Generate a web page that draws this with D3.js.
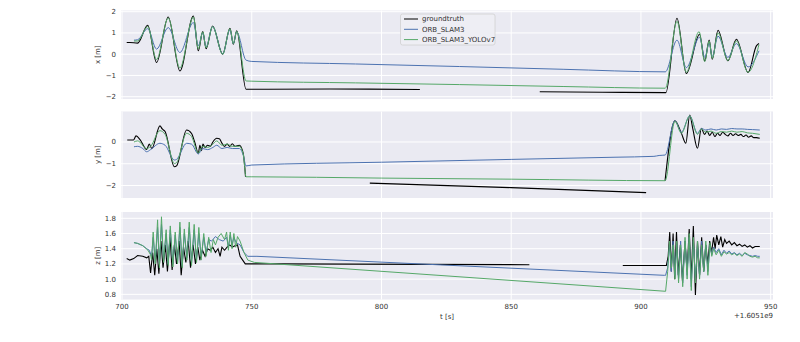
<!DOCTYPE html>
<html><head><meta charset="utf-8">
<script src="https://cdn.jsdelivr.net/npm/d3@7"></script>
<style>body{margin:0;background:#fff}svg{display:block}text{font-family:"DejaVu Sans",sans-serif}</style>
</head><body>
<svg id="c" width="800" height="342"></svg>
<script>
const seriesNames = ["groundtruth", "ORB_SLAM3", "ORB_SLAM3_YOLOv7"];
const seriesColors = ["#000000", "#4c72b0", "#55a868"];
const xTicks = [700, 750, 800, 850, 900, 950];
const xOffsetLabel = "+1.6051e9";
const yLabels = ["x [m]", "y [m]", "z [m]"];
const yTicksX = [-2, -1, 0, 1, 2];
const yTicksY = [-2, -1, 0];
const yTicksZ = [0.8, 1.0, 1.2, 1.4, 1.6, 1.8];

// x panel
const gtX = [[701.8,0.55],[703,0.55],[706,0.52],[709.9,1.36],[713.3,-0.39],[717.8,1.75],[722.3,-0.79],[727.5,1.80],[729.4,0.16],[731.1,1.06],[732.4,0.26],[734.9,1.33],[738.8,0.0],[741.6,1.22],[742.9,0.47],[744.2,1.1],[747.8,-1.65],[780,-1.64],[814.8,-1.66],[815,null],[861,-1.77],[885,-1.79],[909.6,-1.81],[913.9,1.69],[917.5,-0.91],[922.6,0.94],[924.6,-0.32],[926.3,0.66],[927.5,-0.24],[929.7,1.13],[933.5,-0.31],[936.8,0.7],[941.3,-0.86],[944.5,0.39],[945.5,0.5]];
const orbX = [[704.6,0.66],[706,0.68],[709.9,1.2],[713.3,0.24],[717.8,1.25],[722.3,0.08],[727.5,1.49],[729.4,0.4],[731.1,1.0],[732.4,0.35],[734.9,1.3],[738.8,0.02],[741.6,1.15],[742.9,0.5],[744.2,1.05],[747.8,-0.28],[750,-0.34],[790,-0.46],[830,-0.58],[870,-0.71],[909.4,-0.83],[913.9,0.66],[917.5,-0.63],[922.6,0.8],[924.6,-0.15],[926.3,0.5],[927.5,-0.1],[929.7,0.85],[933.5,-0.15],[936.8,0.5],[941.3,-0.6],[945.5,0.16]];
const yoloX = [[704.6,0.62],[706,0.62],[709.9,1.3],[713.3,-0.25],[717.8,1.7],[722.3,-0.65],[727.5,1.75],[729.4,0.25],[731.1,1.05],[732.4,0.3],[734.9,1.3],[738.8,0.0],[741.6,1.2],[742.9,0.5],[744.2,1.08],[747.8,-1.26],[750,-1.27],[790,-1.35],[830,-1.43],[870,-1.52],[909.4,-1.6],[913.9,1.55],[917.5,-0.85],[922.4,1.06],[924.6,-0.35],[926.3,0.62],[927.5,-0.2],[929.7,1.0],[933.5,-0.3],[936.8,0.62],[941.3,-0.85],[945.5,0.45]];

// y panel
const gtY = [[702,0.09],[704.4,0.09],[705.4,0.28],[707,0.1],[709.5,-0.34],[710.5,-0.1],[711.5,-0.3],[714.6,0.74],[715.5,0.6],[716.6,0.48],[720.2,-1.14],[721,-1.1],[724.9,0.55],[726.8,0.39],[728,0.0],[729.4,-0.52],[730,-0.15],[730.6,-0.4],[731.2,-0.1],[732,-0.25],[733,-0.15],[734,-0.2],[735,0.0],[736.5,0.17],[737.5,0.15],[738.5,-0.05],[739.5,-0.2],[740.5,-0.1],[741.5,-0.2],[742.5,-0.08],[743.5,-0.2],[745.2,-0.15],[746.7,-0.52],[747.6,-1.6],[748,null],[795.5,-1.89],[850,-2.1],[902,-2.33],[902.5,null],[909.3,-1.78],[913.1,0.98],[915.6,0.4],[917.3,-0.06],[918.8,1.24],[920,0.6],[921.8,-0.29],[923.3,0.63],[924.5,0.35],[925.5,0.5],[926.5,0.3],[927.5,0.45],[928.5,0.25],[929.5,0.4],[930.5,0.3],[931.5,0.45],[932.5,0.35],[933.5,0.28],[934.5,0.4],[935.5,0.3],[936.5,0.38],[937.5,0.3],[938.5,0.35],[939.5,0.25],[940.5,0.32],[941.5,0.22],[942.5,0.28],[943.5,0.2],[944.5,0.2],[945.8,0.17]];
const orbY = [[704.6,-0.22],[706,-0.2],[708,-0.3],[709.5,-0.45],[711,-0.35],[714.6,-0.06],[716.6,-0.15],[720.2,-0.83],[721,-0.8],[724.9,-0.06],[726.8,-0.1],[729.4,-0.55],[731,-0.3],[733,-0.35],[735,-0.25],[736.5,-0.15],[738.5,-0.3],[740.5,-0.25],[742.5,-0.3],[745.2,-0.3],[746.7,-0.6],[747.8,-1.1],[750,-1.06],[800,-0.93],[850,-0.8],[890,-0.7],[905,-0.66],[907,-0.62],[909.3,-0.6],[913.1,0.98],[915.6,0.45],[918.8,1.2],[921.8,0.4],[923.3,0.62],[925,0.55],[927,0.6],[929,0.55],[931,0.6],[933,0.58],[935,0.62],[937,0.6],[939,0.6],[941,0.58],[943,0.57],[945.8,0.55]];
const yoloY = [[704.6,0.0],[706,0.05],[709.5,-0.3],[711,-0.2],[714.6,0.52],[716.6,0.35],[720.2,-0.99],[721,-0.95],[724.9,0.4],[726.8,0.25],[729.4,-0.5],[731,-0.2],[733,-0.25],[735,-0.1],[736.5,0.05],[738.5,-0.15],[740.5,-0.1],[742.5,-0.2],[745.2,-0.2],[746.7,-0.55],[747.8,-1.6],[750,-1.6],[800,-1.66],[850,-1.71],[909.3,-1.78],[913.1,0.95],[915.6,0.4],[918.8,1.2],[921.8,0.35],[923.3,0.6],[925,0.45],[927,0.5],[929,0.4],[931,0.48],[933,0.45],[935,0.5],[937,0.45],[939,0.48],[941,0.42],[943,0.4],[945.8,0.35]];

// z panel
const gtZ = [[701.8,1.27],[703,1.25],[704.5,1.27],[706,1.31],[708,1.3],[709.5,1.28],[710.3,1.3],[711,1.08],[711.8,1.35],[712.6,1.05],[713.4,1.4],[714.2,1.07],[715,1.5],[715.8,1.15],[716.7,1.45],[717.5,1.1],[718.5,1.55],[719.3,1.12],[720.2,1.45],[721,1.2],[722,1.5],[722.8,1.05],[723.7,1.42],[724.6,1.22],[725.5,1.5],[726.4,1.15],[727.4,1.45],[728.3,1.2],[729.2,1.42],[730,1.25],[731,1.38],[732,1.3],[733,1.4],[734,1.38],[735,1.42],[736,1.35],[737,1.4],[737.8,1.3],[738.5,1.42],[739.5,1.38],[740.5,1.42],[741.5,1.45],[742.5,1.42],[743.5,1.44],[744.5,1.45],[745.5,1.3],[746.5,1.25],[747.5,1.2],[760,1.2],[857,1.19],[857.5,null],[893,1.18],[909.8,1.18],[910.5,1.3],[911.1,1.62],[911.7,1.1],[912.4,1.6],[913,1.0],[913.7,1.62],[914.4,1.05],[915.2,1.45],[916,0.98],[917,1.5],[917.8,1.1],[918.6,1.66],[919.4,1.0],[920.2,1.7],[921,0.79],[921.8,1.5],[922.6,1.05],[923.4,1.55],[924.2,1.1],[925,1.45],[925.8,1.2],[926.5,1.5],[927.2,1.35],[928,1.55],[928.6,1.4],[929.2,1.58],[930,1.45],[930.8,1.56],[931.5,1.42],[932.3,1.52],[933,1.47],[934,1.5],[935,1.45],[936,1.48],[937,1.44],[938,1.46],[939,1.43],[940,1.45],[941,1.42],[942,1.44],[943,1.41],[944,1.43],[945,1.43],[945.8,1.43]];
const orbZ = [[704.6,1.48],[706,1.47],[708,1.44],[709.5,1.4],[710.5,1.38],[711.4,1.3],[712,1.55],[712.8,1.22],[713.7,1.68],[714.4,1.2],[715.2,1.72],[716,1.25],[717,1.6],[717.8,1.2],[718.6,1.65],[719.6,1.2],[720.5,1.58],[721.4,1.22],[722.3,1.68],[723.2,1.18],[724,1.6],[725,1.28],[725.9,1.68],[726.8,1.22],[727.8,1.65],[728.7,1.25],[729.6,1.6],[730.5,1.3],[731.5,1.55],[732.4,1.35],[733.4,1.52],[734.5,1.5],[736,1.56],[737.5,1.52],[739,1.5],[740.3,1.55],[741,1.42],[741.7,1.58],[742.4,1.45],[743.1,1.55],[744,1.48],[745.5,1.45],[747,1.35],[748.5,1.3],[752,1.3],[909,1.05],[909.5,1.05],[910.3,1.15],[911,1.45],[911.7,1.1],[912.4,1.5],[913.1,1.05],[913.8,1.45],[914.5,1.0],[915.3,1.5],[916.1,0.95],[917,1.5],[917.8,1.05],[918.6,1.55],[919.4,0.9],[920.2,1.5],[921,1.0],[921.8,1.45],[922.6,1.05],[923.4,1.5],[924.2,1.1],[925,1.45],[925.8,1.1],[926.6,1.45],[927.3,1.32],[928,1.42],[929,1.35],[930,1.4],[931,1.32],[932,1.38],[933,1.34],[934,1.37],[935,1.33],[936,1.35],[937,1.32],[938,1.34],[939,1.31],[940,1.34],[941,1.32],[942,1.31],[943,1.3],[944,1.31],[945,1.3],[945.8,1.3]];
const yoloZ = [[704.6,1.48],[706,1.47],[708,1.44],[710,1.38],[711,1.32],[711.4,1.25],[712,1.62],[712.8,1.2],[713.7,1.78],[714.4,1.15],[715.2,1.82],[716,1.22],[717,1.65],[717.8,1.18],[718.6,1.7],[719.6,1.16],[720.5,1.62],[721.4,1.2],[722.3,1.75],[723.2,1.15],[724,1.66],[725,1.25],[725.9,1.75],[726.8,1.18],[727.8,1.72],[728.7,1.22],[729.6,1.68],[730.5,1.25],[731.5,1.6],[732.4,1.3],[733.4,1.55],[734.3,1.35],[735.2,1.52],[736,1.45],[737,1.55],[738.2,1.6],[739.5,1.52],[740.3,1.62],[741,1.38],[741.7,1.62],[742.4,1.4],[743.1,1.6],[743.8,1.42],[744.5,1.56],[745.5,1.5],[747,1.35],[748.5,1.25],[751,1.22],[909.5,0.84],[910.3,1.1],[911,1.5],[911.7,1.15],[912.4,1.45],[913.1,1.0],[913.8,1.5],[914.5,0.95],[915.3,1.45],[916.1,0.9],[917,1.55],[917.8,1.0],[918.6,1.6],[919.4,0.85],[920.2,1.55],[921,0.95],[921.8,1.5],[922.6,1.0],[923.4,1.45],[924.2,1.1],[925,1.5],[925.8,1.05],[926.6,1.48],[927.3,1.3],[928,1.4],[929,1.32],[930,1.38],[931,1.3],[932,1.36],[933,1.33],[934,1.35],[935,1.32],[936,1.34],[937,1.31],[938,1.33],[939,1.3],[940,1.35],[941,1.33],[942,1.3],[943,1.29],[944,1.3],[945,1.28],[945.8,1.28]];

const svg = d3.select("#c");
const L = 121, R = 773;
const x = d3.scaleLinear().domain([699.6, 950.9]).range([L, R]);
const minus = s => s.replace("-", "\u2212");

const panels = [
  {top: 10.5, bottom: 99, domain: [-2.108, 2.056], ticks: yTicksX, fmt: d3.format("d"), label: yLabels[0], series: [gtX, orbX, yoloX], curve: d3.curveMonotoneX},
  {top: 111.5, bottom: 198, domain: [-2.575, 1.402], ticks: yTicksY, fmt: d3.format("d"), label: yLabels[1], series: [gtY, orbY, yoloY], curve: d3.curveMonotoneX},
  {top: 212, bottom: 299.5, domain: [0.732, 1.883], ticks: yTicksZ, fmt: d3.format(".1f"), label: yLabels[2], series: [gtZ, orbZ, yoloZ], curve: d3.curveLinear}
];

panels.forEach((p, i) => {
  const y = d3.scaleLinear().domain(p.domain).range([p.bottom, p.top]);
  const g = svg.append("g");
  g.append("rect").attr("x", L).attr("y", p.top).attr("width", R - L).attr("height", p.bottom - p.top).attr("fill", "#eaeaf2");
  g.selectAll(".vg").data(xTicks).join("line")
    .attr("x1", d => x(d)).attr("x2", d => x(d)).attr("y1", p.top).attr("y2", p.bottom)
    .attr("stroke", "#fff").attr("stroke-width", 1);
  g.selectAll(".hg").data(p.ticks).join("line")
    .attr("x1", L).attr("x2", R).attr("y1", d => y(d)).attr("y2", d => y(d))
    .attr("stroke", "#fff").attr("stroke-width", 1);
  g.selectAll(".yt").data(p.ticks).join("text")
    .attr("x", 116).attr("y", d => y(d)).attr("dy", "0.35em")
    .attr("text-anchor", "end").attr("font-size", 7).attr("fill", "#333")
    .text(d => minus(p.fmt(d)));
  g.append("text").attr("transform", `translate(98,${(p.top + p.bottom) / 2}) rotate(-90)`)
    .attr("text-anchor", "middle").attr("dy", "0.35em").attr("font-size", 7).attr("fill", "#333").text(p.label);
  const clipId = "clip" + i;
  svg.append("clipPath").attr("id", clipId).append("rect").attr("x", L).attr("y", p.top).attr("width", R - L).attr("height", p.bottom - p.top);
  const line = d3.line().defined(d => d[1] !== null).x(d => x(d[0])).y(d => y(d[1])).curve(p.curve);
  p.series.forEach((s, k) => {
    g.append("path").datum(s).attr("d", line).attr("fill", "none")
      .attr("stroke", seriesColors[k]).attr("stroke-width", k === 0 ? 1.1 : 1)
      .attr("clip-path", `url(#${clipId})`);
  });
});

// x tick labels
svg.selectAll(".xt").data(xTicks).join("text")
  .attr("x", d => x(d)).attr("y", 307).attr("dy", "0.35em").attr("text-anchor", "middle")
  .attr("font-size", 7).attr("fill", "#333").text(d => d);
svg.append("text").attr("x", (L + R) / 2).attr("y", 317).attr("dy", "0.35em").attr("text-anchor", "middle")
  .attr("font-size", 7).attr("fill", "#333").text("t [s]");
svg.append("text").attr("x", R).attr("y", 316).attr("dy", "0.35em").attr("text-anchor", "end")
  .attr("font-size", 7).attr("fill", "#333").text(xOffsetLabel);

// legend
const lg = svg.append("g");
lg.append("rect").attr("x", 400.5).attr("y", 14).attr("width", 94.5).attr("height", 31).attr("rx", 2)
  .attr("fill", "#eeeef4").attr("stroke", "#d0d0d0").attr("stroke-width", 0.8);
seriesNames.forEach((n, k) => {
  const yy = 19 + k * 10.3;
  lg.append("line").attr("x1", 404).attr("x2", 418).attr("y1", yy).attr("y2", yy).attr("stroke", seriesColors[k]).attr("stroke-width", 1);
  lg.append("text").attr("x", 422).attr("y", yy).attr("dy", "0.35em").attr("font-size", 7).attr("fill", "#333").text(n);
});
</script>
</body></html>
